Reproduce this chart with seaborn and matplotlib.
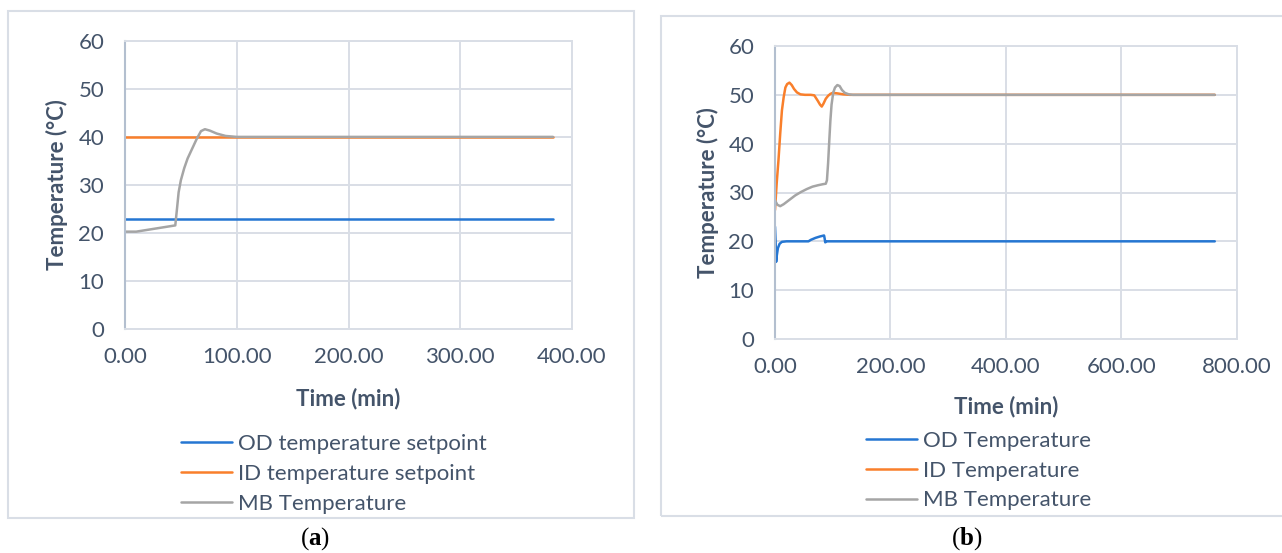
import numpy as np
import pandas as pd
import matplotlib
matplotlib.use("Agg")
import matplotlib.pyplot as plt
from matplotlib.patches import Rectangle
import seaborn as sns

# ---- panel (a): setpoint run --------------------------------------------
a_sp_time = [0.0, 383.0]
a_od_setpoint = [23.0, 23.0]
a_id_setpoint = [40.0, 40.0]
a_mb_time = [0, 10, 45, 46.5, 48, 50, 53, 56, 60, 64, 68, 71.5, 76, 82, 90, 100, 383]
a_mb_temp = [20.3, 20.3, 21.6, 25.0, 28.5, 31.0, 33.5, 35.5, 37.5, 39.5, 41.2, 41.6,
             41.3, 40.7, 40.2, 40.0, 40.0]

# ---- panel (b): measured run --------------------------------------------
b_od_time = [0, 1, 2, 3, 5, 8, 12, 20, 40, 58, 62, 70, 78, 85, 86, 87, 90, 762]
b_od_temp = [23.0, 20.0, 15.8, 17.0, 18.6, 19.5, 19.9, 20.0, 20.0, 20.0, 20.3, 20.7,
             21.0, 21.2, 20.6, 19.8, 20.0, 20.0]
b_id_time = [0, 3, 6, 9, 12, 15, 18, 21, 25, 29, 33, 38, 44, 52, 62, 68, 74, 78, 81,
             84, 88, 92, 96, 100, 108, 118, 130, 762]
b_id_temp = [26.4, 32.0, 36.6, 42.0, 46.8, 49.5, 51.5, 52.2, 52.5, 52.0, 51.2, 50.5,
             50.1, 50.0, 50.0, 49.9, 48.8, 48.0, 47.6, 48.2, 49.2, 49.8, 50.2, 50.4,
             50.3, 50.1, 50.0, 50.0]
b_mb_time = [0, 4, 9, 15, 25, 35, 45, 55, 65, 75, 83, 88, 90, 92, 94, 96, 98, 101,
             104, 108, 112, 116, 121, 128, 135, 762]
b_mb_temp = [28.4, 27.5, 27.2, 27.6, 28.5, 29.4, 30.1, 30.7, 31.2, 31.5, 31.7, 31.8,
             32.5, 36.0, 40.5, 44.8, 48.0, 50.5, 51.5, 52.0, 51.8, 51.0, 50.4, 50.1,
             50.0, 50.0]

a_labels = ["OD temperature setpoint", "ID temperature setpoint", "MB Temperature"]
b_labels = ["OD Temperature", "ID Temperature", "MB Temperature"]
x_ticks_a = [0, 100, 200, 300, 400]
x_ticks_b = [0, 200, 400, 600, 800]
y_ticks = [0, 10, 20, 30, 40, 50, 60]

BLUE, ORANGE, GREY = "#2576D2", "#F97F2B", "#A5A5A5"
TEXT = "#44546A"
GRID = "#D9DEE6"
AXIS = "#B3BFCF"
FS = 16

sns.set_theme(style="white")
plt.rcParams["font.family"] = ["Lato", "DejaVu Sans"]
plt.rcParams["mathtext.fontset"] = "custom"
plt.rcParams["mathtext.rm"] = "Liberation Serif"
plt.rcParams["mathtext.bf"] = "Liberation Serif:bold"


def long_frame(parts):
    rows = []
    for name, t, v in parts:
        rows.append(pd.DataFrame({"Time": t, "Temperature": v, "Series": name}))
    return pd.concat(rows, ignore_index=True)


df_a = long_frame([
    (a_labels[0], a_sp_time, a_od_setpoint),
    (a_labels[1], a_sp_time, a_id_setpoint),
    (a_labels[2], a_mb_time, a_mb_temp),
])
df_b = long_frame([
    (b_labels[0], b_od_time, b_od_temp),
    (b_labels[1], b_id_time, b_id_temp),
    (b_labels[2], b_mb_time, b_mb_temp),
])

W, H = 1282, 553
fig = plt.figure(figsize=(W / 100, H / 100), dpi=100)
fig.patch.set_facecolor("white")


def px_axes(left, right, top, bottom):
    return fig.add_axes([left / W, 1 - bottom / H, (right - left) / W, (bottom - top) / H])


ax_a = px_axes(125, 572, 40.7, 329.3)
ax_b = px_axes(775, 1236.7, 46, 339)


def draw(ax, df, labels, xmax, xticks, legend_x, legend_y, xlabel_y, ylabel_x):
    sns.lineplot(data=df, x="Time", y="Temperature", hue="Series", hue_order=labels,
                 palette=[BLUE, ORANGE, GREY], estimator=None, sort=False,
                 linewidth=1.8, ax=ax)
    ax.set_xlim(0, xmax)
    ax.set_ylim(0, 60)
    ax.set_xticks(xticks)
    ax.set_xticklabels([f"{v:.2f}" for v in xticks])
    ax.set_yticks(y_ticks)
    ax.set_yticklabels([str(v) for v in y_ticks])
    ax.grid(True, color=GRID, linewidth=1.4)
    ax.set_axisbelow(True)
    for side in ("top", "right", "bottom"):
        ax.spines[side].set_color(GRID)
        ax.spines[side].set_linewidth(1.4)
    ax.spines["left"].set_color(AXIS)
    ax.spines["left"].set_linewidth(1.5)
    ax.tick_params(axis="both", length=0, labelsize=FS, labelcolor=TEXT)
    ax.tick_params(axis="y", pad=15)
    ax.tick_params(axis="x", pad=13)
    ax.set_xlabel("Time (min)", fontsize=FS, fontweight="bold", color=TEXT)
    ax.set_ylabel("Temperature (°C)", fontsize=FS, fontweight="bold", color=TEXT)
    ax.xaxis.set_label_coords(0.5, xlabel_y)
    ax.xaxis.label.set_va("center")
    ax.yaxis.set_label_coords(ylabel_x, 0.5)
    ax.yaxis.label.set_va("center")
    sns.move_legend(ax, loc="center left",
                    bbox_to_anchor=(legend_x / W, 1 - legend_y / H),
                    bbox_transform=fig.transFigure, frameon=False, title=None,
                    fontsize=FS, handlelength=2.3, handletextpad=0.25,
                    labelspacing=0.44, borderpad=0, borderaxespad=0, labelcolor=TEXT)


draw(ax_a, df_a, a_labels, 400, x_ticks_a, 181, 473.8, -0.2415, -0.152)
draw(ax_b, df_b, b_labels, 800, x_ticks_b, 866, 470.7, -0.232, -0.145)

# chart borders
fig.add_artist(Rectangle((8 / W, 1 - 517.7 / H), (634 - 8) / W, (517.7 - 11) / H,
                         transform=fig.transFigure, fill=False, ec=GRID, lw=1.5))
fig.add_artist(Rectangle((660.7 / W, 1 - 515.5 / H), (1300 - 660.7) / W, (515.5 - 15.7) / H,
                         transform=fig.transFigure, fill=False, ec=GRID, lw=1.5))

# sub-figure captions
fig.text(315 / W, 1 - 539 / H, r"$\mathrm{(}\mathbf{a}\mathrm{)}$", ha="center",
         va="center", fontsize=18, color="black")
fig.text(967 / W, 1 - 539 / H, r"$\mathrm{(}\mathbf{b}\mathrm{)}$", ha="center",
         va="center", fontsize=18, color="black")

fig.savefig("out.png", dpi=100, facecolor="white")
